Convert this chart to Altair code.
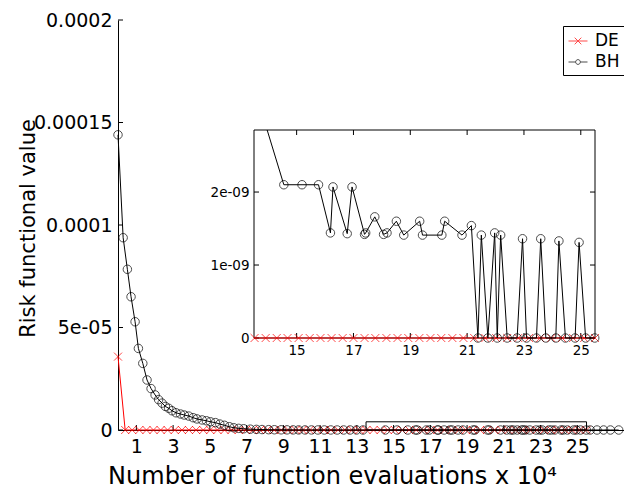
import altair as alt
import pandas as pd

# ---------------- values ----------------
series_names = ["DE", "BH"]
series_colors = ["#ff0000", "#000000"]

# DE: x in units of 10^4 function evaluations
de_x = [0.00, 0.39, 0.77, 1.16, 1.55, 1.93, 2.32, 2.70, 3.09, 3.48,
        3.86, 4.25, 4.64, 5.02, 5.41, 5.80, 6.18, 6.57, 6.96, 7.34,
        7.73, 8.11, 8.50, 8.89, 9.27, 9.66, 10.05, 10.43, 10.82, 11.21,
        11.59, 11.98, 12.36, 12.75, 13.14, 13.52, 13.91, 14.30, 14.68, 15.07,
        15.46, 15.84, 16.23, 16.62, 17.00, 17.39, 17.77, 18.16, 18.55, 18.93,
        19.32, 19.71, 20.09, 20.48, 20.87, 21.25, 21.64, 22.02, 22.41, 22.80,
        23.18, 23.57, 23.96, 24.34, 24.73, 25.12, 25.50]
de_y = [3.58e-05, 0, 0, 0, 0, 0, 0, 0, 0, 0,
        0, 0, 0, 0, 0, 0, 0, 0, 0, 0,
        0, 0, 0, 0, 0, 0, 0, 0, 0, 0,
        0, 0, 0, 0, 0, 0, 0, 0, 0, 0,
        0, 0, 0, 0, 0, 0, 0, 0, 0, 0,
        0, 0, 0, 0, 0, 0, 0, 0, 0, 0,
        0, 0, 0, 0, 0, 0, 0]

bh_x = [0.00, 0.28, 0.51, 0.71, 0.93, 1.11, 1.35, 1.58, 1.80, 2.02,
        2.21, 2.40, 2.58, 2.76, 2.94, 3.16, 3.40, 3.61, 3.85, 4.09,
        4.30, 4.58, 4.81, 5.03, 5.30, 5.54, 5.79, 6.06, 6.30, 6.57,
        6.84, 7.20, 7.53, 7.84, 8.20, 8.51, 8.88, 9.20, 9.53, 9.83,
        10.18, 10.53, 10.88, 11.23, 11.58, 11.93, 12.28, 12.63, 12.98, 13.33,
        14.55, 15.19, 15.77, 16.19, 16.28, 16.78, 16.95, 17.39, 17.43, 17.75,
        18.06, 18.18, 18.51, 18.77, 19.33, 19.43, 20.11, 20.21, 20.82, 21.15,
        21.38, 21.50, 21.73, 21.97, 22.06, 22.18, 22.41, 22.76, 22.95, 23.09,
        23.44, 23.59, 23.77, 24.12, 24.23, 24.46, 24.80, 24.94, 25.17, 25.49,
        25.70, 26.07, 26.43, 26.80, 27.25]
bh_y = [1.44e-04, 9.38e-05, 7.84e-05, 6.50e-05, 5.28e-05, 3.98e-05, 3.25e-05, 2.44e-05, 2.02e-05, 1.71e-05,
        1.48e-05, 1.31e-05, 1.15e-05, 1.06e-05, 9.4e-06, 8.4e-06, 7.8e-06, 7.3e-06, 6.8e-06, 6.0e-06,
        5.4e-06, 4.9e-06, 4.5e-06, 4.0e-06, 3.6e-06, 2.9e-06, 2.3e-06, 1.6e-06, 1.1e-06, 8.0e-07,
        6.0e-07, 4.0e-07, 3.0e-07, 2.2e-07, 1.6e-07, 1.2e-07, 9.0e-08, 7.0e-08, 5.0e-08, 4.0e-08,
        3.0e-08, 2.4e-08, 1.9e-08, 1.5e-08, 1.2e-08, 9.0e-09, 7.5e-09, 6.0e-09, 5.0e-09, 3.66e-09,
        2.10e-09, 2.10e-09, 2.10e-09, 1.44e-09, 2.07e-09, 1.43e-09, 2.07e-09, 1.42e-09, 1.44e-09, 1.66e-09,
        1.42e-09, 1.44e-09, 1.60e-09, 1.41e-09, 1.60e-09, 1.41e-09, 1.41e-09, 1.60e-09, 1.41e-09, 1.54e-09,
        0, 1.41e-09, 0, 1.44e-09, 0, 1.41e-09, 0, 0, 1.36e-09, 0,
        0, 1.36e-09, 0, 0, 1.33e-09, 0, 0, 1.31e-09, 0, 0,
        0, 0, 0, 0, 0]

main_xticks = [1, 3, 5, 7, 9, 11, 13, 15, 17, 19, 21, 23, 25]
main_yticks = [0, 5e-05, 0.0001, 0.00015, 0.0002]
main_ylabels = ["0", "5e-05", "0.0001", "0.00015", "0.0002"]
inset_xticks = [15, 17, 19, 21, 23, 25]
inset_yticks = [0, 1e-09, 2e-09]
inset_ylabels = ["0", "1e-09", "2e-09"]

x_title = "Number of function evaluations x 10\u2074"
y_title = "Risk functional value"

MAIN_X_DOMAIN = [0, 27.54]
MAIN_Y_DOMAIN = [0, 0.0002]
INSET_X_DOMAIN = [13.5, 25.5]
INSET_Y_DOMAIN = [0, 2.85e-09]
ZOOM_BOX_TOP = 4.0e-06

# ---------------- layout ----------------
W, H = 506, 410
INSET_PX_X = [136, 477]
INSET_PX_Y = [318, 110]
FONT = "DejaVu Sans"
TICK = 5

X_SHAPE = "M-1,-1L1,1M-1,1L1,-1"
DE_LEG = "M-1,0L1,0M-0.35,-0.35L0.35,0.35M-0.35,0.35L0.35,-0.35"
BH_LEG = "M-1,0L-0.25,0M0.25,0L1,0M-0.25,0A0.25,0.25,0,1,1,0.25,0A0.25,0.25,0,1,1,-0.25,0"


def label_expr(vals, labs):
    return ("[" + ",".join("'%s'" % l for l in labs) + "][indexof(["
            + ",".join(repr(v) for v in vals) + "], datum.value)]")


def clip_seg(x0, y0, x1, y1, xmin, xmax, ymin, ymax):
    dx, dy = x1 - x0, y1 - y0
    u0, u1 = 0.0, 1.0
    for p, q in ((-dx, x0 - xmin), (dx, xmax - x0), (-dy, y0 - ymin), (dy, ymax - y0)):
        if p == 0:
            if q < 0:
                return None
        else:
            t = q / p
            if p < 0:
                u0 = max(u0, t)
            else:
                u1 = min(u1, t)
    if u0 > u1:
        return None
    return (x0 + u0 * dx, y0 + u0 * dy, x0 + u1 * dx, y0 + u1 * dy)


def clipped_lines(xs, ys):
    xmin, xmax = INSET_X_DOMAIN
    ymin, ymax = INSET_Y_DOMAIN
    lines, cur = [], []
    for i in range(len(xs) - 1):
        s = clip_seg(xs[i], ys[i], xs[i + 1], ys[i + 1], xmin, xmax, ymin, ymax)
        if s is None:
            if cur:
                lines.append(cur)
                cur = []
            continue
        a, b = (s[0], s[1]), (s[2], s[3])
        if cur and abs(cur[-1][0] - a[0]) < 1e-9 and abs(cur[-1][1] - a[1]) < 1e-15:
            cur.append(b)
        else:
            if cur:
                lines.append(cur)
            cur = [a, b]
    if cur:
        lines.append(cur)
    rows = []
    for pi, pts in enumerate(lines):
        for k, (x, y) in enumerate(pts):
            rows.append({"part": pi, "k": k, "x": x, "y": y})
    return pd.DataFrame(rows)


def inside(xs, ys):
    rows = []
    for x, y in zip(xs, ys):
        if INSET_X_DOMAIN[0] <= x <= INSET_X_DOMAIN[1] and INSET_Y_DOMAIN[0] <= y <= INSET_Y_DOMAIN[1]:
            rows.append({"x": x, "y": y})
    return pd.DataFrame(rows)


de_df = pd.DataFrame({"x": de_x, "y": de_y, "k": list(range(len(de_x)))})
bh_df = pd.DataFrame({"x": bh_x, "y": bh_y, "k": list(range(len(bh_x)))})

# ---------------- scales & axes ----------------
mx = alt.Scale(domain=MAIN_X_DOMAIN, nice=False, zero=False)
my = alt.Scale(domain=MAIN_Y_DOMAIN, nice=False, zero=False)
ix = alt.Scale(domain=INSET_X_DOMAIN, range=INSET_PX_X, nice=False, zero=False)
iy = alt.Scale(domain=INSET_Y_DOMAIN, range=INSET_PX_Y, nice=False, zero=False)

main_x_axis = alt.Axis(
    orient="bottom", values=main_xticks, format="d", ticks=False, tickSize=0,
    domain=True, domainColor="black", domainWidth=1, grid=False,
    labelFontSize=19, labelPadding=7, labelColor="black", labelOverlap=False, labelFlush=False,
    title=x_title, titleFontSize=24, titleFontWeight="normal", titleColor="black",
    titleX=214, titleY=53, titleAlign="center", titleBaseline="alphabetic", titleAngle=0)
main_y_axis = alt.Axis(
    orient="left", values=main_yticks, labelExpr=label_expr(main_yticks, main_ylabels),
    ticks=False, tickSize=0, domain=True, domainColor="black", domainWidth=1, grid=False,
    labelFontSize=19, labelPadding=6, labelColor="black", labelOverlap=False, labelFlush=False,
    title=y_title, titleFontSize=21, titleFontWeight="normal", titleColor="black",
    titleX=-90, titleY=208, titleAlign="center", titleBaseline="middle", titleAngle=270)
inset_x_axis = alt.Axis(
    orient="bottom", offset=-(H - INSET_PX_Y[0]), values=inset_xticks, format="d",
    ticks=False, tickSize=0, domain=False, grid=False, title="",
    labelFontSize=13.5, labelPadding=5, labelColor="black", labelOverlap=False, labelFlush=False)
inset_y_axis = alt.Axis(
    orient="left", offset=-INSET_PX_X[0], values=inset_yticks,
    labelExpr=label_expr(inset_yticks, inset_ylabels),
    ticks=False, tickSize=0, domain=False, grid=False, title="",
    labelFontSize=13.5, labelPadding=5, labelColor="black", labelOverlap=False, labelFlush=False)

# ---------------- main plot ----------------
de_line = alt.Chart(de_df).mark_line(color=series_colors[0], strokeWidth=1).encode(
    x=alt.X("x:Q", scale=mx, axis=main_x_axis),
    y=alt.Y("y:Q", scale=my, axis=main_y_axis),
    order="k:Q")
de_pts = alt.Chart(de_df).mark_point(shape=X_SHAPE, size=64, filled=False,
                                     color=series_colors[0], strokeWidth=1).encode(
    x=alt.X("x:Q", scale=mx, axis=None), y=alt.Y("y:Q", scale=my, axis=None))
bh_line = alt.Chart(bh_df).mark_line(color=series_colors[1], strokeWidth=1).encode(
    x=alt.X("x:Q", scale=mx, axis=None), y=alt.Y("y:Q", scale=my, axis=None), order="k:Q")
bh_pts = alt.Chart(bh_df).mark_point(shape="circle", size=72, filled=False,
                                     color=series_colors[1], strokeWidth=1).encode(
    x=alt.X("x:Q", scale=mx, axis=None), y=alt.Y("y:Q", scale=my, axis=None))

zoom_df = pd.DataFrame({"x": [INSET_X_DOMAIN[0]], "x2": [INSET_X_DOMAIN[1]],
                        "y": [0.0], "y2": [ZOOM_BOX_TOP]})
zoom_box = alt.Chart(zoom_df).mark_rect(fillOpacity=0, stroke="black", strokeWidth=1).encode(
    x=alt.X("x:Q", scale=mx, axis=None), x2="x2:Q",
    y=alt.Y("y:Q", scale=my, axis=None), y2="y2:Q")

mytick_df = pd.DataFrame({"y": main_yticks})
mxtick_df = pd.DataFrame({"x": main_xticks})
main_yticks_l = alt.Chart(mytick_df).mark_rule(color="black", strokeWidth=1).encode(
    y=alt.Y("y:Q", scale=my, axis=None), x=alt.value(0), x2=alt.value(TICK))
main_xticks_l = alt.Chart(mxtick_df).mark_rule(color="black", strokeWidth=1).encode(
    x=alt.X("x:Q", scale=mx, axis=None), y=alt.value(H), y2=alt.value(H - TICK))

legend_def = alt.Legend(orient="none", legendX=445, legendY=6, strokeColor="black",
                        fillColor="white", padding=5, labelFont=FONT, labelFontSize=17,
                        labelColor="black", symbolSize=361, symbolStrokeWidth=1,
                        rowPadding=3, labelOffset=7)
legend_layer = alt.Chart(pd.DataFrame({"series": series_names})).mark_point(filled=False).encode(
    color=alt.Color("series:N", title=None,
                    scale=alt.Scale(domain=series_names, range=series_colors), legend=legend_def),
    shape=alt.Shape("series:N", title=None,
                    scale=alt.Scale(domain=series_names, range=[DE_LEG, BH_LEG]), legend=legend_def),
).transform_filter("false")

# ---------------- inset ----------------
frame_df = pd.DataFrame({"x": [INSET_X_DOMAIN[0]], "x2": [INSET_X_DOMAIN[1]],
                         "y": [INSET_Y_DOMAIN[0]], "y2": [INSET_Y_DOMAIN[1]]})
frame = alt.Chart(frame_df).mark_rect(fill="white", stroke="black", strokeWidth=1).encode(
    x=alt.X("x:Q", scale=ix, axis=inset_x_axis), x2="x2:Q",
    y=alt.Y("y:Q", scale=iy, axis=inset_y_axis), y2="y2:Q")

ixt_df = pd.DataFrame({"x": inset_xticks})
iyt_df = pd.DataFrame({"y": inset_yticks})
it_bottom = alt.Chart(ixt_df).mark_rule(color="black", strokeWidth=1).encode(
    x=alt.X("x:Q", scale=ix, axis=None), y=alt.value(INSET_PX_Y[0]), y2=alt.value(INSET_PX_Y[0] - TICK))
it_top = alt.Chart(ixt_df).mark_rule(color="black", strokeWidth=1).encode(
    x=alt.X("x:Q", scale=ix, axis=None), y=alt.value(INSET_PX_Y[1]), y2=alt.value(INSET_PX_Y[1] + TICK))
it_left = alt.Chart(iyt_df).mark_rule(color="black", strokeWidth=1).encode(
    y=alt.Y("y:Q", scale=iy, axis=None), x=alt.value(INSET_PX_X[0]), x2=alt.value(INSET_PX_X[0] + TICK))
it_right = alt.Chart(iyt_df).mark_rule(color="black", strokeWidth=1).encode(
    y=alt.Y("y:Q", scale=iy, axis=None), x=alt.value(INSET_PX_X[1]), x2=alt.value(INSET_PX_X[1] - TICK))

de_in_line = alt.Chart(clipped_lines(de_x, de_y)).mark_line(color=series_colors[0], strokeWidth=1).encode(
    x=alt.X("x:Q", scale=ix, axis=None), y=alt.Y("y:Q", scale=iy, axis=None),
    detail="part:N", order="k:Q")
de_in_pts = alt.Chart(inside(de_x, de_y)).mark_point(shape=X_SHAPE, size=64, filled=False,
                                                    color=series_colors[0], strokeWidth=1).encode(
    x=alt.X("x:Q", scale=ix, axis=None), y=alt.Y("y:Q", scale=iy, axis=None))
bh_in_line = alt.Chart(clipped_lines(bh_x, bh_y)).mark_line(color=series_colors[1], strokeWidth=1).encode(
    x=alt.X("x:Q", scale=ix, axis=None), y=alt.Y("y:Q", scale=iy, axis=None),
    detail="part:N", order="k:Q")
bh_in_pts = alt.Chart(inside(bh_x, bh_y)).mark_point(shape="circle", size=72, filled=False,
                                                    color=series_colors[1], strokeWidth=1).encode(
    x=alt.X("x:Q", scale=ix, axis=None), y=alt.Y("y:Q", scale=iy, axis=None))

chart = alt.layer(
    de_line, main_yticks_l, main_xticks_l, zoom_box, de_pts, bh_line, bh_pts, legend_layer,
    frame, it_bottom, it_top, it_left, it_right, de_in_line, de_in_pts, bh_in_line, bh_in_pts,
).resolve_scale(x="independent", y="independent").resolve_axis(
    x="independent", y="independent").properties(
    width=W, height=H,
    padding={"left": 110, "top": 12, "right": 0, "bottom": 62},
    autosize=alt.AutoSizeParams(type="none"),
).configure(font=FONT).configure_view(strokeWidth=0).configure_axis(
    labelFont=FONT, titleFont=FONT)

chart.save("out.html", embed_options={"renderer": "svg", "actions": False})
